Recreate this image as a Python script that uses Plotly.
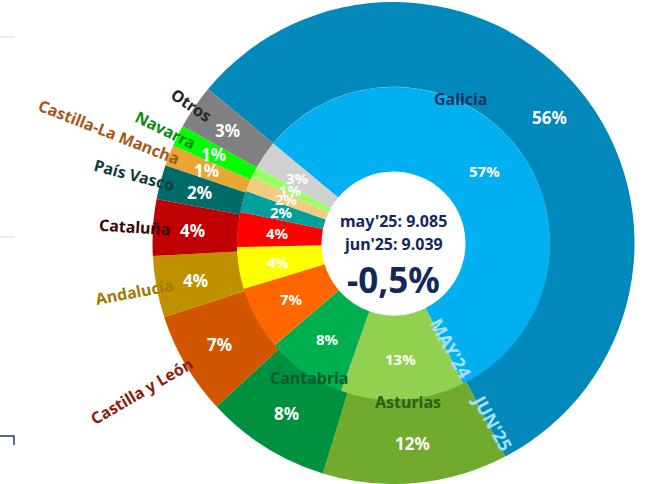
import numpy as np
import plotly.graph_objects as go

# ---------------- data ----------------
regions = ["Galicia", "Asturias", "Cantabria", "Castilla y León", "Andalucía",
           "Cataluña", "País Vasco", "Castilla-La Mancha", "Navarra", "Otros"]
may25 = [5142, 1163, 754, 600, 391, 327, 200, 145, 100, 263]   # inner ring
jun25 = [5089, 1121, 759, 624, 371, 343, 208, 127, 127, 270]   # outer ring
inner_month = "may'25"
outer_month = "jun'25"
ring_tags = ["MAY'24", "JUN'25"]

# ---------------- style ----------------
colors_outer = ["#0089BA", "#72AA2E", "#00913F", "#D25500", "#BF9000",
                "#C00000", "#006B68", "#E8A732", "#00FF00", "#808080"]
colors_inner = ["#00B0F0", "#92D050", "#00B050", "#FF6600", "#FFFF00",
                "#FF0000", "#00A09D", "#F2CB80", "#99FF66", "#D0D0D0"]
name_colors = ["#0B365E", "#2F5E18", "#0B5A2B", "#8E1B0E", "#A37A00",
               "#3D0808", "#0F3D3D", "#A9561A", "#0E8A0E", "#262626"]
# label style: 'in' = horizontal label on ring boundary, 'out' = radial label outside
name_mode = ["in", "in", "in", "out", "out", "out", "out", "out", "out", "out"]
name_angle_override = {0: 25.0}

W, H = 651, 484
CX, CY = 393.5, 243.5
R_OUT, R_MID, R_HOLE = 241.5, 156.5, 72.0
ROT = -50.3
FONT = "Noto Sans"


def dom(r):
    y0 = max(0.0, 1 - (CY + r) / H)
    y1 = min(1.0, 1 - (CY - r) / H)
    return dict(x=[(CX - r) / W, (CX + r) / W], y=[y0, y1])


def pt(theta, r):
    t = np.radians(theta)
    return (CX + r * np.sin(t)) / W, 1 - (CY - r * np.cos(t)) / H


def angles(vals):
    v = np.array(vals, float)
    f = v / v.sum()
    start = ROT + 360 * np.concatenate([[0], np.cumsum(f)[:-1]])
    return start + 180 * f, start + 360 * f, f


def text(x, y, s, size, color, angle=0):
    return dict(x=x, y=y, xref="paper", yref="paper", text=f"<b>{s}</b>", showarrow=False,
                xanchor="center", yanchor="middle", textangle=angle,
                font=dict(family=FONT, size=size, color=color))


fig = go.Figure()
fig.add_trace(go.Pie(labels=regions, values=jun25, sort=False, direction="clockwise",
                     rotation=ROT, hole=R_MID / R_OUT, domain=dom(R_OUT),
                     marker=dict(colors=colors_outer, line=dict(width=0)),
                     textinfo="none", showlegend=False, name=outer_month))
fig.add_trace(go.Pie(labels=regions, values=may25, sort=False, direction="clockwise",
                     rotation=ROT, hole=R_HOLE / R_MID, domain=dom(R_MID),
                     marker=dict(colors=colors_inner, line=dict(width=0)),
                     textinfo="none", showlegend=False, name=inner_month))

ann = []
mid_o, end_o, f_o = angles(jun25)
mid_i, end_i, f_i = angles(may25)

# percentages
for m, f in zip(mid_o, f_o):
    x, y = pt(m, 201)
    ann.append(text(x, y, f"{round(f * 100)}%", 17, "white"))
for m, f in zip(mid_i, f_i):
    x, y = pt(m, 116)
    ann.append(text(x, y, f"{round(f * 100)}%", 15, "white"))

# region names
for i, name in enumerate(regions):
    m = mid_o[i] % 360
    if name_mode[i] == "in":
        th = name_angle_override.get(i, m)
        x, y = pt(th, 159)
        ann.append(text(x, y, name, 16, name_colors[i]))
    else:
        L = len(name) * 9.3
        x, y = pt(m, 222 + L / 2)
        ann.append(text(x, y, name, 16, name_colors[i], angle=m - 270))

# ring tags along Galicia end boundary
for tag, th, r in [(ring_tags[0], end_i[0] - 2.4, 119), (ring_tags[1], end_o[0] - 1.5, 205)]:
    x, y = pt(th, r)
    ann.append(text(x, y, tag, 18, "#A6E1FA", angle=th - 90))

# centre texts
tot_i, tot_o = sum(may25), sum(jun25)
chg = (tot_o - tot_i) / tot_i * 100
fmt = lambda n: f"{n:,}".replace(",", ".")
for txt, dy, size in [(f"{inner_month}: {fmt(tot_i)}", -23, 16),
                      (f"{outer_month}: {fmt(tot_o)}", 1, 16),
                      (f"{chg:.1f}%".replace(".", ","), 36, 35)]:
    ann.append(text(CX / W, 1 - (CY + dy) / H, txt, size, "#14285A"))

shapes = [
    dict(type="line", xref="paper", yref="paper", x0=0, x1=15 / W, y0=1 - 37 / H, y1=1 - 37 / H,
         line=dict(color="#D5DCE8", width=1)),
    dict(type="line", xref="paper", yref="paper", x0=0, x1=15 / W, y0=1 - 237 / H, y1=1 - 237 / H,
         line=dict(color="#D5DCE8", width=1)),
    dict(type="path", xref="paper", yref="paper",
         path=f"M 0 {1 - 436 / H} L {14 / W} {1 - 436 / H} L {14 / W} {1 - 445 / H}",
         line=dict(color="#1F3A7A", width=1.5)),
]

fig.update_layout(width=W, height=H, margin=dict(l=0, r=0, t=0, b=0),
                  paper_bgcolor="white", plot_bgcolor="white",
                  annotations=ann, shapes=shapes)
fig.write_html("out.html", config={"displayModeBar": False},
               post_script="document.body.style.margin='0';document.body.style.overflow='hidden';")
